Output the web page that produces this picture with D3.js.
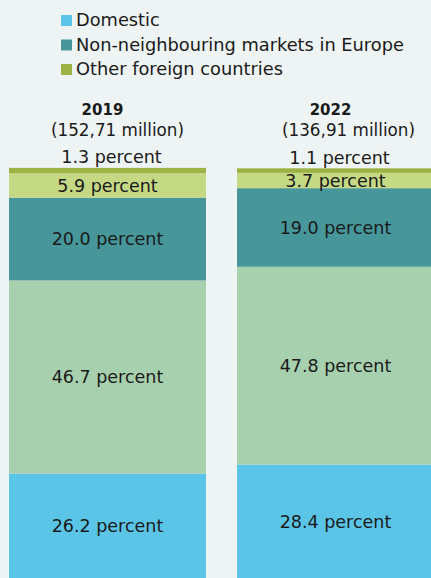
<!DOCTYPE html>
<html>
<head>
<meta charset="utf-8">
<script src="https://cdn.jsdelivr.net/npm/d3@7"></script>
<style>
  html, body { margin: 0; padding: 0; background: #eef4f4; }
  svg { display: block; }
  text { font-family: "Century Gothic", "DejaVu Sans", sans-serif; fill: #1a1a1a; }
</style>
</head>
<body>
<svg id="chart" width="431" height="578"></svg>
<script>
// Overnight stays by origin of guests, share of total
const years = ["2019", "2022"];
const totals = ["152,71", "136,91"];
const seriesNames = [
  "Domestic",
  "Neighbouring markets",
  "Non-neighbouring markets in Europe",
  "Other European countries",
  "Other foreign countries"
];
const domestic = [26.2, 28.4];
const neighbouring = [46.7, 47.8];
const nonNeighbouring = [20.0, 19.0];
const otherEurope = [5.9, 3.7];
const otherForeign = [1.3, 1.1];
const seriesColors = ["#5bc5e8", "#a7d0ae", "#46969a", "#c5d985", "#9db242"];
const legendItems = ["Domestic", "Non-neighbouring markets in Europe", "Other foreign countries"];
const yTicks = [0, 100];

const svg = d3.select("#chart");

const rows = years.map((y, i) => ({
  year: y,
  total: totals[i],
  "Domestic": domestic[i],
  "Neighbouring markets": neighbouring[i],
  "Non-neighbouring markets in Europe": nonNeighbouring[i],
  "Other European countries": otherEurope[i],
  "Other foreign countries": otherForeign[i]
}));

// Bars run past the lower edge of the frame
const x = d3.scaleBand().domain(years).range([9, 434]).paddingInner(0.136).paddingOuter(0);
const y = d3.scaleLinear().domain(yTicks).range([582, 168.3]);
const color = d3.scaleOrdinal().domain(seriesNames).range(seriesColors);

const stacked = d3.stack().keys(seriesNames)(rows);

// Bars
const layers = svg.append("g").selectAll("g").data(stacked).join("g")
  .attr("fill", d => color(d.key));
layers.selectAll("rect").data(d => d.map(p => ({ p, key: d.key }))).join("rect")
  .attr("x", d => x(d.p.data.year))
  .attr("width", x.bandwidth())
  .attr("y", d => y(d.p[1]))
  .attr("height", d => y(d.p[0]) - y(d.p[1]));

// Segment labels
const fmt = d3.format(".1f");
const labels = svg.append("g").attr("font-size", 17.5).attr("text-anchor", "middle");
stacked.forEach(layer => {
  layer.forEach(p => {
    const v = p.data[layer.key];
    const cx = x(p.data.year) + x.bandwidth() / 2;
    const small = v < 2;
    const visibleBottom = Math.min(y(p[0]), 578);
    const cy = small ? y(p[1]) - 11 : (visibleBottom + y(p[1])) / 2;
    labels.append("text")
      .attr("x", cx + (small ? 4 : 0))
      .attr("y", cy)
      .attr("dy", "0.36em")
      .text(fmt(v) + " percent");
  });
});

// Year headers with totals
const heads = svg.append("g").attr("text-anchor", "middle");
rows.forEach((r, i) => {
  const cx = x(r.year) + x.bandwidth() / 2;
  heads.append("text")
    .attr("x", cx - 5).attr("y", 115)
    .attr("font-size", 15).attr("font-weight", "bold")
    .text(r.year);
  heads.append("text")
    .attr("x", cx + 10 + i * 3).attr("y", 136)
    .attr("font-size", 16.8)
    .text("(" + r.total + " million)");
});

// Legend
const legend = svg.append("g").attr("transform", "translate(61,0)");
legendItems.forEach((name, i) => {
  const g = legend.append("g").attr("transform", `translate(0,${20 + i * 24.5})`);
  g.append("rect").attr("x", 0).attr("y", -5).attr("width", 11).attr("height", 11)
    .attr("fill", color(name));
  g.append("text").attr("x", 15).attr("y", 0).attr("dy", "0.36em")
    .attr("font-size", 17.8).text(name);
});
</script>
</body>
</html>
